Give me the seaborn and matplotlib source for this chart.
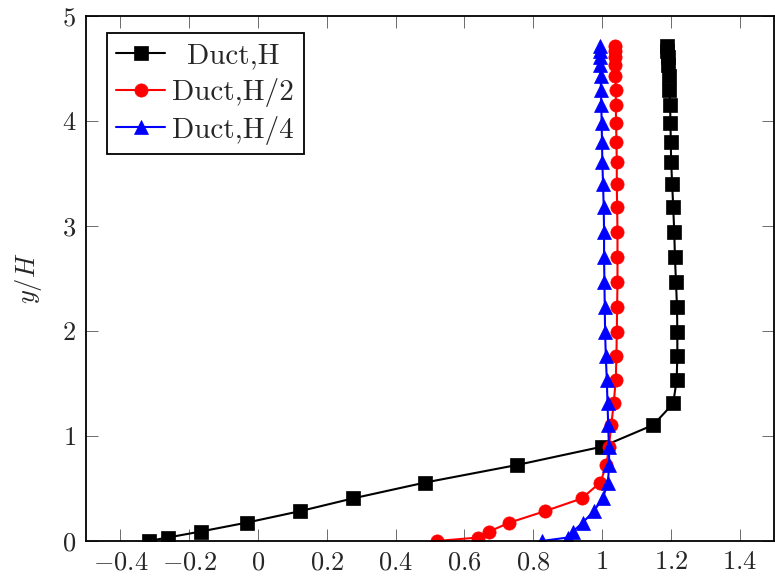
import matplotlib
matplotlib.use("Agg")
import matplotlib.pyplot as plt
import seaborn as sns
import pandas as pd
import numpy as np

# ---- data ----
y_levels = [0.0, 0.033, 0.09, 0.175, 0.284, 0.405, 0.557, 0.724, 0.898, 1.105,
            1.31, 1.533, 1.762, 1.993, 2.231, 2.47, 2.708, 2.946, 3.178, 3.40,
            3.61, 3.803, 3.984, 4.148, 4.295, 4.425, 4.53, 4.61, 4.665, 4.71]

duct_H = [-0.318, -0.262, -0.167, -0.033, 0.122, 0.275, 0.486, 0.753, 1.0, 1.149,
          1.207, 1.217, 1.219, 1.219, 1.218, 1.215, 1.212, 1.210, 1.207, 1.204,
          1.201, 1.200, 1.199, 1.198, 1.196, 1.195, 1.193, 1.191, 1.189, 1.188]

duct_H2 = [0.519, 0.640, 0.672, 0.731, 0.834, 0.941, 0.995, 1.013, 1.020, 1.027,
           1.034, 1.040, 1.042, 1.043, 1.044, 1.045, 1.045, 1.045, 1.044, 1.043,
           1.043, 1.042, 1.041, 1.040, 1.040, 1.039, 1.039, 1.039, 1.038, 1.038]

duct_H4 = [0.825, 0.900, 0.915, 0.944, 0.976, 1.002, 1.017, 1.021, 1.020, 1.018,
           1.016, 1.014, 1.011, 1.009, 1.008, 1.007, 1.006, 1.006, 1.005, 1.003,
           1.001, 1.000, 0.999, 0.998, 0.997, 0.996, 0.995, 0.995, 0.994, 0.994]

series_names = ["Duct,H", "Duct,H/2", "Duct,H/4"]
series_values = [duct_H, duct_H2, duct_H4]
series_colors = ["black", "#ff0000", "#0000ff"]
series_markers = ["s", "o", "^"]

xticks = [-0.4, -0.2, 0, 0.2, 0.4, 0.6, 0.8, 1.0, 1.2, 1.4]
xtick_labels = ["$-0.4$", "$-0.2$", "$0$", "$0.2$", "$0.4$", "$0.6$", "$0.8$", "$1$", "$1.2$", "$1.4$"]
yticks = [0, 1, 2, 3, 4, 5]
ytick_labels = ["$0$", "$1$", "$2$", "$3$", "$4$", "$5$"]

# ---- style ----
sns.set_style("ticks")
plt.rcParams["mathtext.fontset"] = "cm"
plt.rcParams["font.family"] = ["cmr10", "DejaVu Sans"]
plt.rcParams["axes.unicode_minus"] = False

fs = 19
lfs = 21
fig = plt.figure(figsize=(7.75, 5.83), dpi=100)
ax = fig.add_axes([86 / 775, 1 - 541 / 583, (774 - 86) / 775, (541 - 16) / 583])

rows = []
for name, vals in zip(series_names, series_values):
    for xv, yv in zip(vals, y_levels):
        rows.append({"series": name, "x": xv, "y": yv})
df = pd.DataFrame(rows)

for name, col, mk in zip(series_names, series_colors, series_markers):
    sub = df[df["series"] == name]
    sns.lineplot(data=sub, x="x", y="y", sort=False, estimator=None, ax=ax,
                 color=col, marker=mk, markersize=9.5 if mk != "^" else 10,
                 markeredgecolor=col, markeredgewidth=0.5, linewidth=1.5,
                 label=name, legend=False)

ax.set_xlim(-0.5, 1.5)
ax.set_ylim(0, 5)
ax.set_xticks(xticks)
ax.set_xticklabels(xtick_labels)
ax.set_yticks(yticks)
ax.set_yticklabels(ytick_labels)
ax.set_xlabel("")
ax.set_ylabel("$y/H$", fontsize=fs, labelpad=13)

ax.tick_params(direction="in", length=8.5, width=0.6, color="#555555",
               top=True, right=True, labelsize=fs)
ax.tick_params(axis="x", pad=7)
ax.tick_params(axis="y", pad=7)
for sp in ax.spines.values():
    sp.set_linewidth(1.3)
    sp.set_color("black")

handles, labels = ax.get_legend_handles_labels()
leg = ax.legend(handles, labels, loc="upper left", bbox_to_anchor=(0.030, 0.9676),
                borderaxespad=0, frameon=True, fancybox=False, framealpha=1,
                edgecolor="black", fontsize=lfs, handlelength=1.68, handletextpad=0.24,
                borderpad=0.33, labelspacing=0.3, numpoints=1)
leg.get_frame().set_linewidth(1.3)

# centre legend texts like pgfplots
fig.canvas.draw()
texts = leg.get_texts()
widths = [t.get_window_extent().width for t in texts]
mw = max(widths)
for t, w in zip(texts, widths):
    t.set_position(((mw - w) / 2, 0))

fig.savefig("out.png", dpi=100)
